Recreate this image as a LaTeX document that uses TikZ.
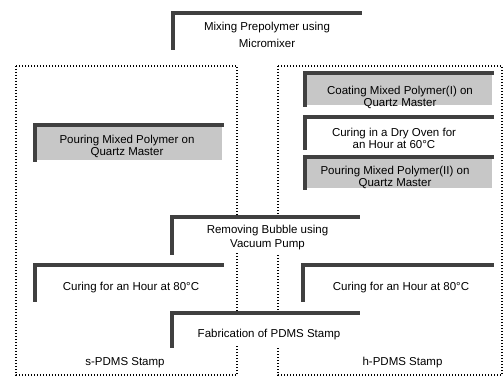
\documentclass[tikz,border=0pt]{standalone}
\usepackage{fontspec}
\setmainfont{Liberation Sans}
\begin{document}
\begin{tikzpicture}[x=1pt,y=-1pt,
  stepbox/.style={draw=none,inner sep=0pt,fill=white,anchor=north west},
  graybox/.style={stepbox,fill=black!22},
  frame/.style={draw=black!75,line width=3.5pt,line cap=rect},
  group/.style={draw=black,line width=1.1pt,dash pattern=on 1.1pt off 1.9pt},
  txt/.style={inner sep=0pt,align=center,font=\fontsize{11.5}{12}\selectfont},
  lbl/.style={inner sep=0pt,font=\fontsize{11.5}{12}\selectfont}]
\useasboundingbox (0,0) rectangle (503,377);
% group frames
\draw[group] (16,66) rectangle (237,375);
\draw[group] (278,66) rectangle (502,375);
% boxes
\node[stepbox,minimum width=187pt,minimum height=35pt] (mix) at (173,13) {};
\node[graybox,minimum width=187pt,minimum height=35pt] (pourA) at (35,125) {};
\node[graybox,minimum width=187pt,minimum height=32pt] (coat) at (305,73) {};
\node[stepbox,minimum width=187pt,minimum height=31pt] (oven) at (305,117) {};
\node[graybox,minimum width=187pt,minimum height=31pt] (pourB) at (305,157) {};
\node[stepbox,minimum width=186pt,minimum height=36pt] (remove) at (172,217) {};
\node[stepbox,minimum width=187pt,minimum height=35pt] (cureL) at (35,265) {};
\node[stepbox,minimum width=189pt,minimum height=35pt] (cureR) at (303,265) {};
\node[stepbox,minimum width=186pt,minimum height=33pt] (fab) at (172,313) {};
\foreach \n in {mix,pourA,coat,oven,pourB,remove,cureL,cureR,fab}
  \draw[frame] (\n.south west) -- (\n.north west) -- (\n.north east);
% texts
\node[txt,font=\fontsize{11.5}{17}\selectfont] (mixT) at (267,35) {Mixing Prepolymer using\\Micromixer};
\node[txt] (pourAT) at (127,146) {Pouring Mixed Polymer on\\Quartz Master};
\node[txt] (coatT) at (400,97.5) {Coating Mixed Polymer(I) on\\Quartz Master};
\node[txt] (ovenT) at (394,138.5) {Curing in a Dry Oven for\\an Hour at 60°C};
\node[txt] (pourBT) at (395,177) {Pouring Mixed Polymer(II) on\\Quartz Master};
\node[txt,font=\fontsize{11.5}{14}\selectfont] (removeT) at (267.5,238) {Removing Bubble using\\Vacuum Pump};
\node[lbl] (cureLT) at (131,287.5) {Curing for an Hour at 80°C};
\node[lbl] (cureRT) at (401,287.5) {Curing for an Hour at 80°C};
\node[lbl] (fabT) at (269,334.5) {Fabrication of PDMS Stamp};
\node[lbl] (sT) at (125,363) {s-PDMS Stamp};
\node[lbl] (hT) at (402.5,363) {h-PDMS Stamp};
\end{tikzpicture}
\end{document}
